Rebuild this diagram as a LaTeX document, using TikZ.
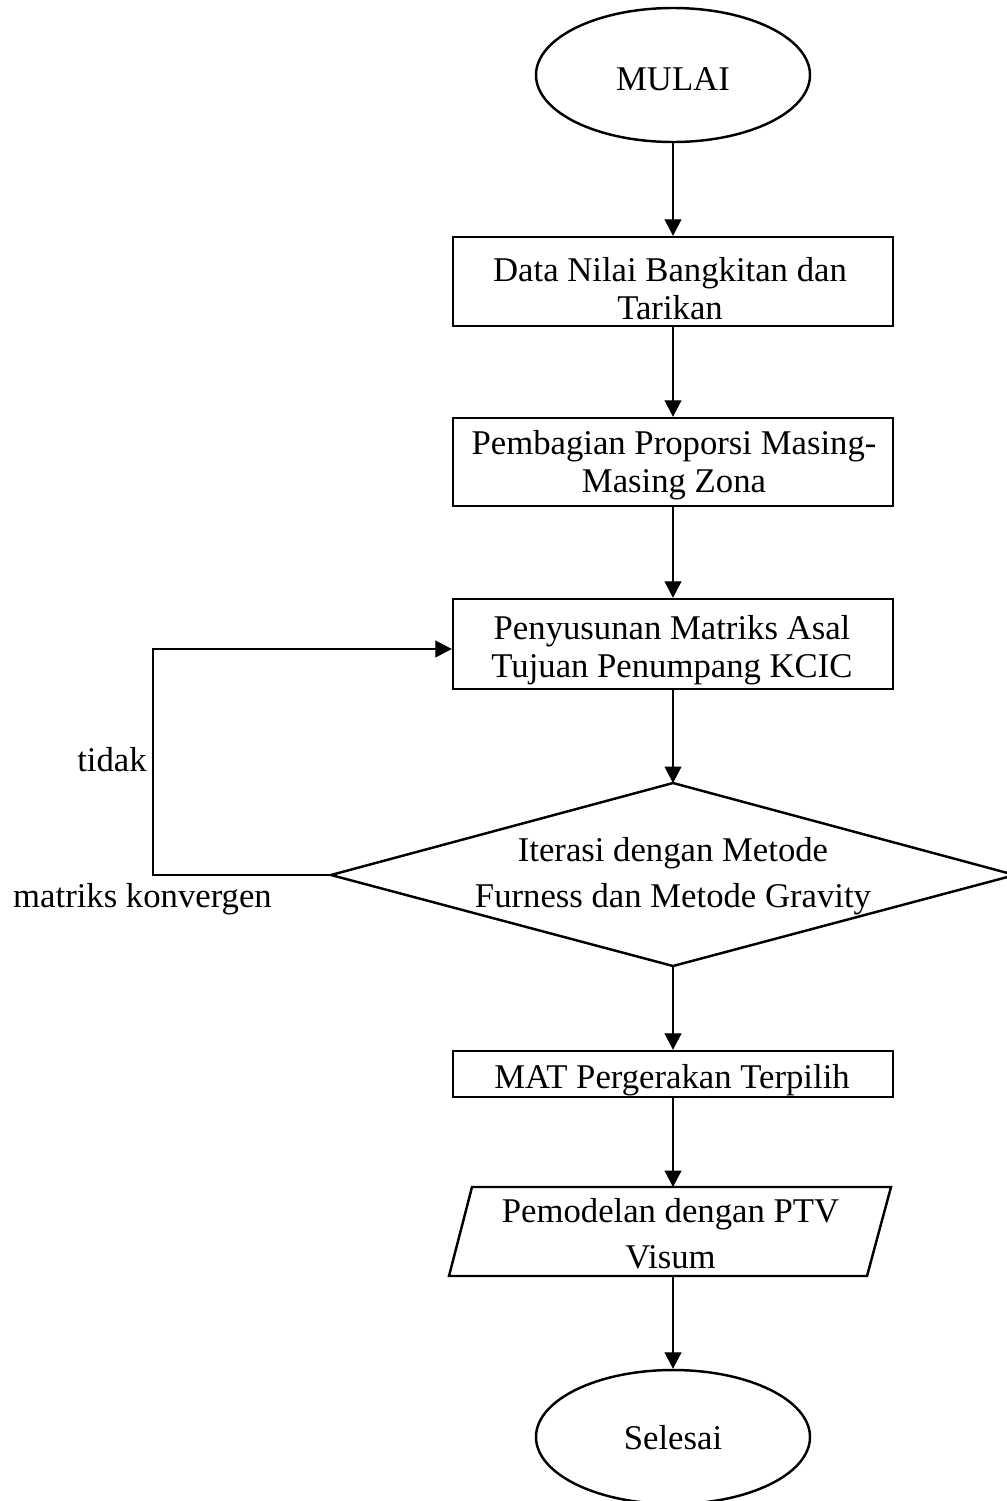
\documentclass[tikz,border=0pt]{standalone}
\usepackage{fontspec}
\setmainfont{Liberation Serif}
\usetikzlibrary{arrows.meta,calc,shapes.geometric}
\begin{document}
\begin{tikzpicture}[x=0.02cm,y=-0.02cm,
  shp/.style={draw=black,line width=1.4pt},
  boxst/.style={shp,rectangle,inner sep=0pt,minimum width=440*0.02cm},
  ell/.style={shp,ellipse,inner sep=0pt,minimum width=274*0.02cm,minimum height=134*0.02cm},
  txt/.style={inner sep=0pt,align=center,font=\fontsize{19.75}{21.6}\selectfont},
  txtw/.style={inner sep=0pt,align=center,font=\fontsize{19.75}{26.2}\selectfont},
  arr/.style={line width=0.7pt,-{Triangle[length=0.33cm,width=0.34cm]}}]
\useasboundingbox (0,0) rectangle (1007,1501);
% start
\node[ell] (start) at (673,75) {};
\node[txt] (tstart) at (673,79.5) {MULAI};
% boxes
\node[boxst,minimum height=89*0.02cm] (b1) at (673,281.5) {};
\node[txt] (t1) at (670,288.7) {Data Nilai Bangkitan dan\\Tarikan};
\node[boxst,minimum height=88*0.02cm] (b2) at (673,462) {};
\node[txt] (t2) at (674,465) {Pembagian Proporsi Masing-\\Masing Zona};
\node[boxst,minimum height=90*0.02cm] (b3) at (673,644) {};
\node[txt] (t3) at (672,650.4) {Penyusunan Matriks Asal\\Tujuan Penumpang KCIC};
% decision
\coordinate (dT) at (673,783);
\coordinate (dR) at (1015,875);
\coordinate (dB) at (673,966);
\coordinate (dL) at (331,875);
\draw[shp,line join=miter] (dT) -- (dR) -- (dB) -- (dL) -- cycle;
\node[txtw] (td) at (673,876) {Iterasi dengan Metode\\Furness dan Metode Gravity};
% box 4
\node[boxst,minimum height=46*0.02cm] (b4) at (673,1074) {};
\node[txt] (t4) at (672,1080) {MAT Pergerakan Terpilih};
% parallelogram
\coordinate (pTL) at (472,1187);
\coordinate (pTR) at (891,1187);
\coordinate (pBR) at (867,1276);
\coordinate (pBL) at (449,1276);
\coordinate (pTop) at (673,1187);
\coordinate (pBot) at (673,1276);
\draw[shp] (pTL) -- (pTR) -- (pBR) -- (pBL) -- cycle;
\node[txtw] (tp) at (670.5,1234) {Pemodelan dengan PTV\\Visum};
% end
\node[ell] (finish) at (673,1437) {};
\node[txt] (tfinish) at (673,1438) {Selesai};
% connectors
\draw[arr] (start.south) -- (b1.north);
\draw[arr] (b1.south) -- (b2.north);
\draw[arr] (b2.south) -- (b3.north);
\draw[arr] (b3.south) -- (dT);
\draw[arr] (dB) -- (b4.north);
\draw[arr] (b4.south) -- (pTop);
\draw[arr] (pBot) -- (finish.north);
\coordinate (lpA) at (153,875);
\coordinate (b3in) at ($(b3.west)+(0,5)$);
\draw[arr] (dL) -- (lpA) |- (b3in);
% labels
\node[txt,anchor=east] (lbno) at (147,760) {tidak};
\node[txt] (lbyes) at (142.5,899) {matriks konvergen};
\end{tikzpicture}
\end{document}
